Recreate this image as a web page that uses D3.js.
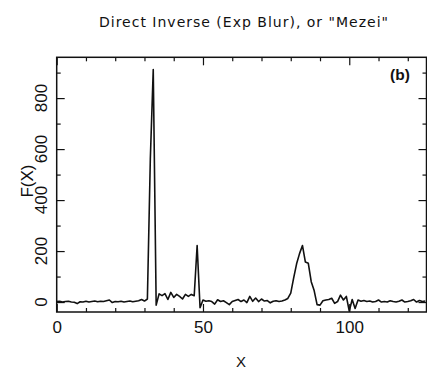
<!DOCTYPE html>
<html>
<head>
<meta charset="utf-8">
<script src="https://d3js.org/d3.v7.min.js"></script>
<style>
    body { margin: 0; background: #fff; }
    svg { display: block; }
    text { font-family: "Liberation Sans", Arial, Helvetica, sans-serif; fill: #111; }
    .frame { fill: none; stroke: #111; stroke-width: 1.5; }
    .line { fill: none; stroke: #111; stroke-width: 1.6; stroke-linejoin: round; }
    .axis path { display: none; }
    .axis line { stroke: #111; stroke-width: 1.2; }
</style>
</head>
<body>
<div id="chart"></div>
<script>
// F(X) sampled at X = 0..126
const xValues = d3.range(0, 127);
const fValues = [
    2, 3, 0, 2, 3, 0, -1, -6, 1, 0,
    3, 0, 2, 4, 1, 3, 2, 5, 8, -2,
    2, 1, 3, 0, 2, 4, 1, 3, 5, 10,
    4, 12, 560, 912, -12, 32, 25, 33, 10, 38,
    18, 30, 22, 12, 30, 22, 30, 25, 222, -22,
    8, 3, 5, 2, -8, 9, 2, 5, -2, -10,
    2, 6, 10, 2, 8, -2, 22, 3, 16, 2,
    12, 4, 6, -3, 3, 5, 2, 4, 8, 14,
    35, 95, 150, 190, 222, 157, 152, 80, 45, -10,
    -12, 5, 8, 10, 15, -5, 2, 27, 8, 22,
    -35, 10, -25, 8, 3, 6, 2, 4, 0, 2,
    8, 0, 2, 0, 5, 2, 0, 3, 8, 0,
    2, 5, 10, 0, 6, 2, 4
];
const xMajorTicks = [0, 50, 100];
const xMinorTicks = [10, 20, 30, 40, 60, 70, 80, 90, 110, 120];
const yMajorTicks = [0, 200, 400, 600, 800];
const yMinorTicks = [100, 300, 500, 700, 900];

const title = 'Direct Inverse (Exp Blur), or "Mezei"';
const xLabel = 'X';
const yLabel = 'F(X)';
const panelTag = '(b)';

const W = 427, H = 372;
const plot = { left: 56.7, right: 426.5, top: 57.3, bottom: 312 };

const svg = d3.select('#chart').append('svg')
    .attr('width', W)
    .attr('height', H);

const x = d3.scaleLinear().domain([0, 126.4]).range([plot.left, plot.right]);
const y = d3.scaleLinear().domain([-39, 960]).range([plot.bottom, plot.top]);

svg.append('clipPath').attr('id', 'clip')
    .append('rect')
    .attr('x', plot.left).attr('y', plot.top)
    .attr('width', plot.right - plot.left).attr('height', plot.bottom - plot.top);

// Ticks (all pointing inward)
const addAxis = (axis, transform) => svg.append('g')
    .attr('class', 'axis')
    .attr('transform', transform)
    .call(axis);

addAxis(d3.axisBottom(x).tickValues(xMajorTicks).tickSize(-8).tickPadding(9).tickFormat(d3.format('d')),
    `translate(0,${plot.bottom})`);
addAxis(d3.axisBottom(x).tickValues(xMinorTicks).tickSize(-4).tickFormat(''),
    `translate(0,${plot.bottom})`);
addAxis(d3.axisTop(x).tickValues(xMajorTicks).tickSize(-8).tickFormat(''),
    `translate(0,${plot.top})`);
addAxis(d3.axisTop(x).tickValues(xMinorTicks).tickSize(-4).tickFormat(''),
    `translate(0,${plot.top})`);
addAxis(d3.axisLeft(y).tickValues(yMajorTicks).tickSize(-8).tickFormat(''),
    `translate(${plot.left},0)`);
addAxis(d3.axisLeft(y).tickValues(yMinorTicks).tickSize(-4).tickFormat(''),
    `translate(${plot.left},0)`);
addAxis(d3.axisRight(y).tickValues(yMajorTicks).tickSize(-8).tickFormat(''),
    `translate(${plot.right},0)`);
addAxis(d3.axisRight(y).tickValues(yMinorTicks).tickSize(-4).tickFormat(''),
    `translate(${plot.right},0)`);

svg.selectAll('.axis text').attr('font-size', 17)
    .style('font-family', '"Liberation Sans", Arial, sans-serif')
    .attr('fill', '#111');

// Rotated y tick labels
svg.append('g').selectAll('text')
    .data(yMajorTicks)
    .enter().append('text')
    .attr('transform', d => `translate(47,${y(d)}) rotate(-90)`)
    .attr('text-anchor', 'middle')
    .attr('font-size', 17)
    .text(d => d);

// Data line
svg.append('path')
    .datum(xValues.map((v, i) => [v, fValues[i]]))
    .attr('class', 'line')
    .attr('clip-path', 'url(#clip)')
    .attr('d', d3.line().x(d => x(d[0])).y(d => y(d[1])));

// Frame
svg.append('rect')
    .attr('class', 'frame')
    .attr('x', plot.left).attr('y', plot.top)
    .attr('width', plot.right - plot.left).attr('height', plot.bottom - plot.top);

// Titles and labels
svg.append('text')
    .attr('x', 243.5).attr('y', 26.5)
    .attr('text-anchor', 'middle')
    .attr('font-size', 14)
    .style('font-family', '"DejaVu Sans", sans-serif')
    .attr('textLength', 289)
    .attr('lengthAdjust', 'spacing')
    .text(title);

svg.append('text')
    .attr('x', 241).attr('y', 367)
    .attr('text-anchor', 'middle')
    .attr('font-size', 15)
    .text(xLabel);

svg.append('text')
    .attr('transform', 'translate(32.5,181) rotate(-90)')
    .attr('text-anchor', 'middle')
    .attr('font-size', 17)
    .text(yLabel);

svg.append('text')
    .attr('x', 400).attr('y', 80)
    .attr('text-anchor', 'middle')
    .attr('font-size', 15.5)
    .attr('font-weight', 'bold')
    .text(panelTag);
</script>
</body>
</html>
